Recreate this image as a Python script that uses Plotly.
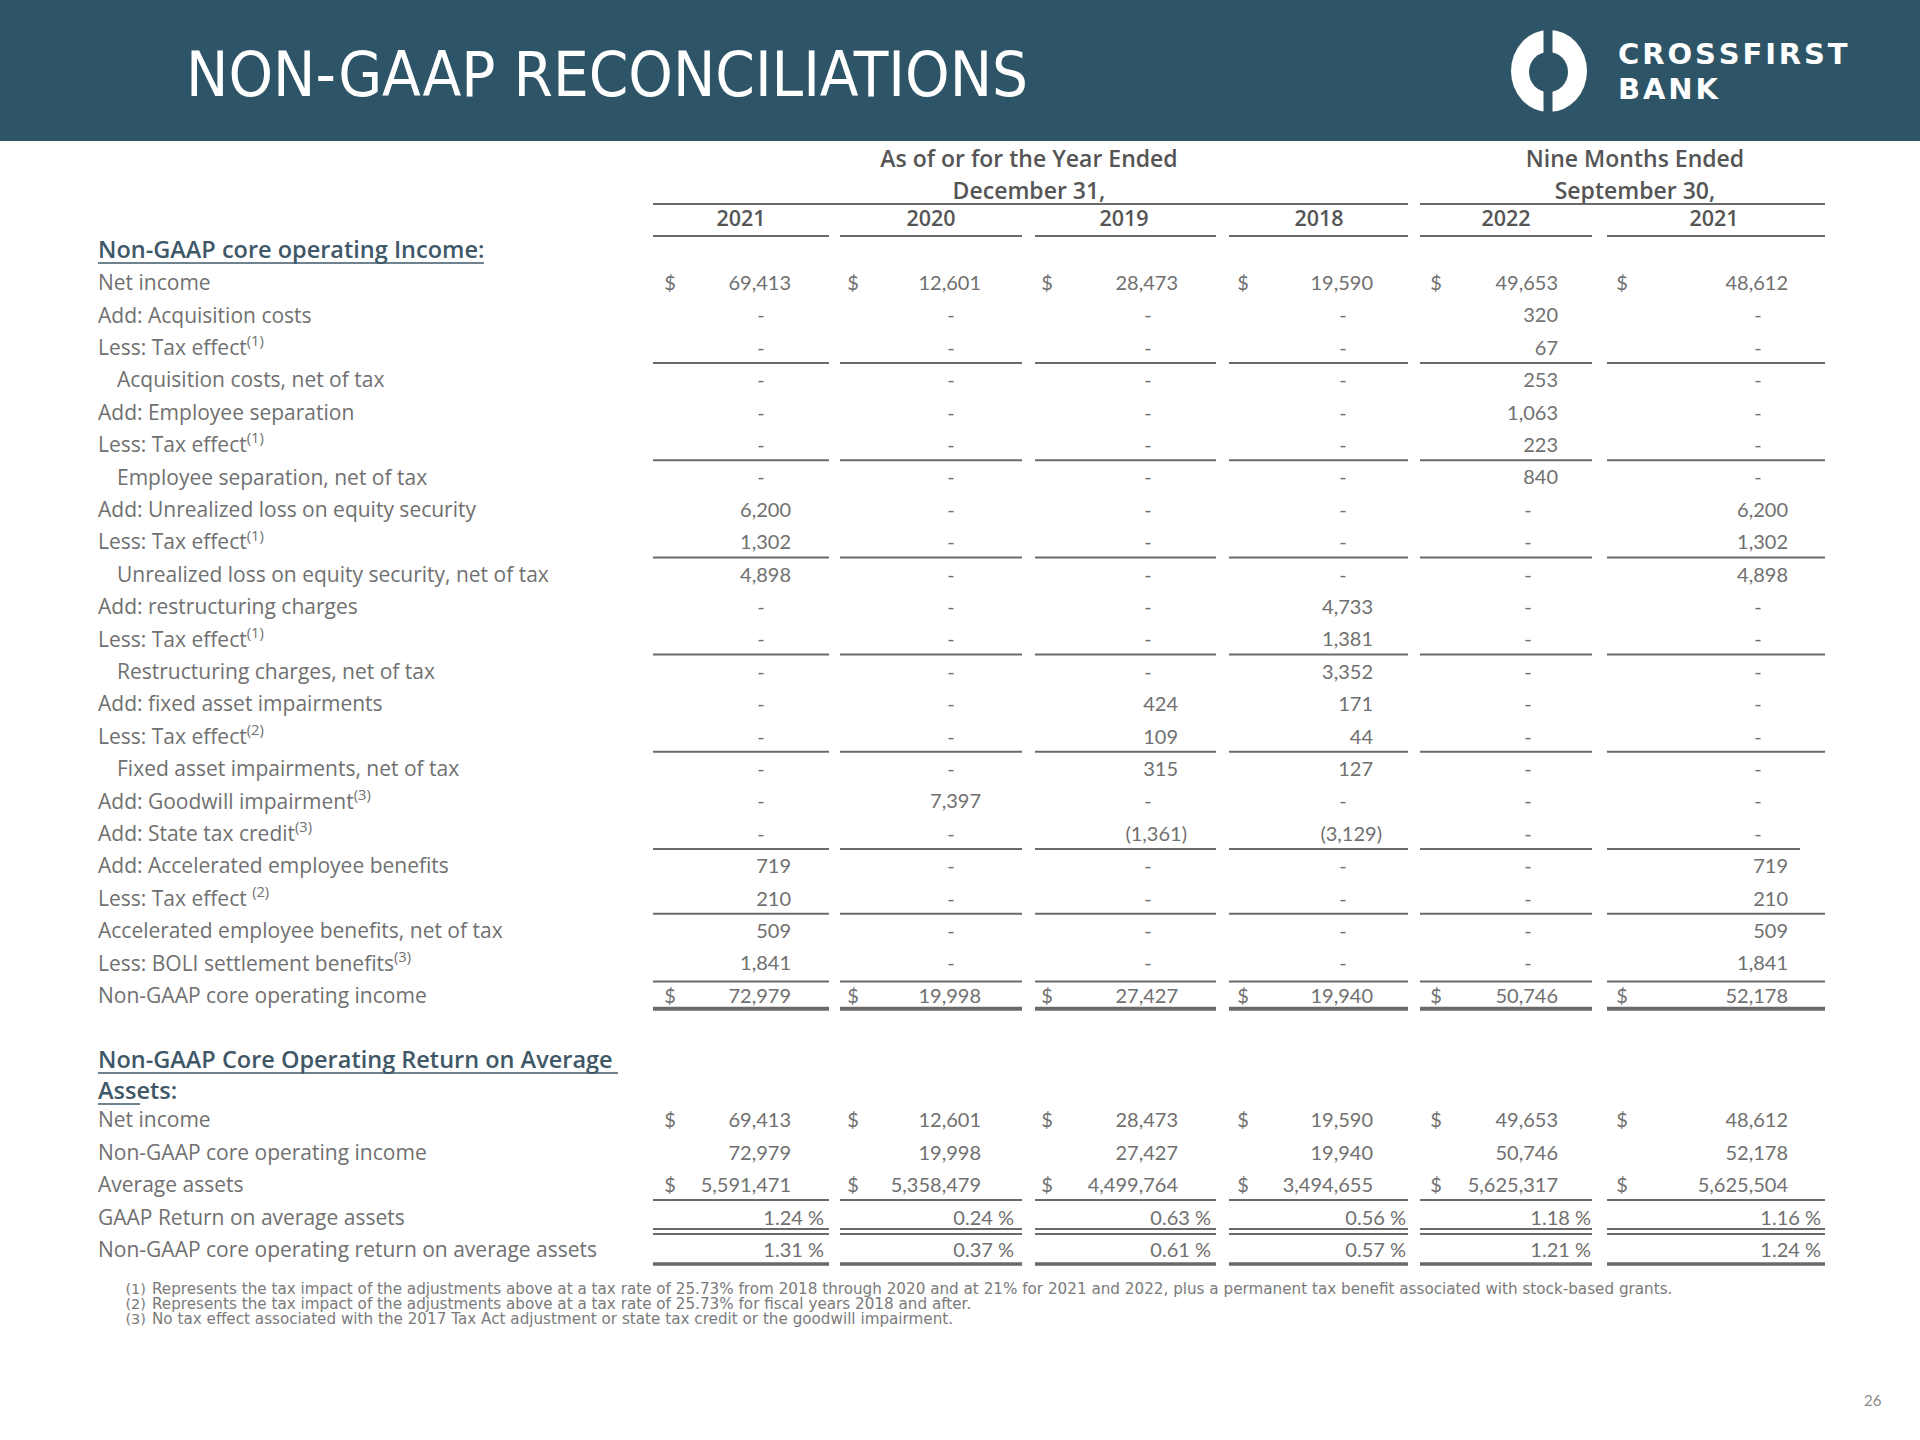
import plotly.graph_objects as go

# ---------------- data ----------------
years = ["2021", "2020", "2019", "2018", "2022", "2021"]
period_headers = ["As of or for the Year Ended", "December 31,", "Nine Months Ended", "September 30,"]

core_labels = [
    "Net income",
    "Add: Acquisition costs",
    "Less: Tax effect<sup>(1)</sup>",
    "Acquisition costs, net of tax",
    "Add: Employee separation",
    "Less: Tax effect<sup>(1)</sup>",
    "Employee separation, net of tax",
    "Add: Unrealized loss on equity security",
    "Less: Tax effect<sup>(1)</sup>",
    "Unrealized loss on equity security, net of tax",
    "Add: restructuring charges",
    "Less: Tax effect<sup>(1)</sup>",
    "Restructuring charges, net of tax",
    "Add: fixed asset impairments",
    "Less: Tax effect<sup>(2)</sup>",
    "Fixed asset impairments, net of tax",
    "Add: Goodwill impairment<sup>(3)</sup>",
    "Add: State tax credit<sup>(3)</sup>",
    "Add: Accelerated employee benefits",
    "Less: Tax effect <sup>(2)</sup>",
    "Accelerated employee benefits, net of tax",
    "Less: BOLI settlement benefits<sup>(3)</sup>",
    "Non-GAAP core operating income",
]
N = None
core_fy2021 = [69413, N, N, N, N, N, N, 6200, 1302, 4898, N, N, N, N, N, N, N, N, 719, 210, 509, 1841, 72979]
core_fy2020 = [12601, N, N, N, N, N, N, N, N, N, N, N, N, N, N, N, 7397, N, N, N, N, N, 19998]
core_fy2019 = [28473, N, N, N, N, N, N, N, N, N, N, N, N, 424, 109, 315, N, -1361, N, N, N, N, 27427]
core_fy2018 = [19590, N, N, N, N, N, N, N, N, N, 4733, 1381, 3352, 171, 44, 127, N, -3129, N, N, N, N, 19940]
core_9m2022 = [49653, 320, 67, 253, 1063, 223, 840, N, N, N, N, N, N, N, N, N, N, N, N, N, N, N, 50746]
core_9m2021 = [48612, N, N, N, N, N, N, 6200, 1302, 4898, N, N, N, N, N, N, N, N, 719, 210, 509, 1841, 52178]
core_columns = [core_fy2021, core_fy2020, core_fy2019, core_fy2018, core_9m2022, core_9m2021]

roaa_labels = [
    "Net income",
    "Non-GAAP core operating income",
    "Average assets",
    "GAAP Return on average assets",
    "Non-GAAP core operating return on average assets",
]
roaa_net_income = [69413, 12601, 28473, 19590, 49653, 48612]
roaa_core_income = [72979, 19998, 27427, 19940, 50746, 52178]
roaa_avg_assets = [5591471, 5358479, 4499764, 3494655, 5625317, 5625504]
roaa_gaap_pct = [1.24, 0.24, 0.63, 0.56, 1.18, 1.16]
roaa_core_pct = [1.31, 0.37, 0.61, 0.57, 1.21, 1.24]

footnotes = [
    ("(1)", "Represents the tax impact of the adjustments above at a tax rate of 25.73% from 2018 through 2020 and at 21% for 2021 and 2022, plus a permanent tax benefit associated with stock-based grants."),
    ("(2)", "Represents the tax impact of the adjustments above at a tax rate of 25.73% for fiscal years 2018 and after."),
    ("(3)", "No tax effect associated with the 2017 Tax Act adjustment or state tax credit or the goodwill impairment."),
]

# ---------------- style / layout constants ----------------
W, H = 1920, 1440
TEAL = "#2e5567"
TXT = "#707070"
HDR = "#555555"
SEC = "#3f5868"
LINE = "#6a6a6a"
NUMFONT = "Lato, 'Open Sans', sans-serif"
LABFONT = "'Open Sans', Lato, sans-serif"

col_left = [653, 840, 1035, 1229, 1420, 1607]
col_right = [829, 1022, 1216, 1408, 1592, 1825]
num_right = [791, 981, 1178, 1373, 1558, 1788]
dollar_x = [670, 853, 1047, 1243, 1436, 1622]
year_x = [741, 931, 1124, 1319, 1506, 1714]

LABEL_X = 98
INDENT_X = 117
indent_rows = {3, 6, 9, 12, 15}
ROW0, STEP = 282, 32.4
TY = 3  # small vertical nudge for text baselines
core_dollar_rows = {0, 22}
core_line_after = [2, 5, 8, 11, 14, 17, 19, 21]
roaa_y = [1119, 1151.5, 1184, 1216.5, 1249]


def row_y(i):
    return ROW0 + STEP * i


def fmt(v):
    if v is None:
        return None
    if v < 0:
        return "({:,})".format(-v)
    return "{:,}".format(v)


fig = go.Figure()
shapes = []
annotations = []


def hline(x0, x1, y, w=2, color=LINE):
    shapes.append(dict(type="line", xref="x", yref="y", x0=x0, x1=x1, y0=y, y1=y,
                       line=dict(color=color, width=w)))


def text_trace(xs, ys, texts, pos, size=20, color=TXT, weight=None, family=NUMFONT):
    tf = dict(family=family, size=size, color=color)
    if weight:
        tf["weight"] = weight
    fig.add_trace(go.Scatter(x=xs, y=[y + TY for y in ys], text=texts, mode="text", textposition=pos,
                             textfont=tf, hoverinfo="skip", showlegend=False, cliponaxis=False))


# ---------------- header band ----------------
shapes.append(dict(type="rect", xref="x", yref="y", x0=0, x1=W, y0=0, y1=141,
                   fillcolor=TEAL, line=dict(width=0), layer="below"))
annotations.append(dict(x=184, y=74, xref="x", yref="y", xanchor="left", yanchor="middle",
                        text="NON-GAAP RECONCILIATIONS", showarrow=False,
                        font=dict(family="'Liberation Sans Narrow', 'DejaVu Sans Condensed', sans-serif",
                                  size=63, color="white")))
# logo: white ring split by a vertical gap
shapes.append(dict(type="circle", xref="x", yref="y", x0=1511, x1=1587, y0=30, y1=112,
                   fillcolor="white", line=dict(width=0)))
shapes.append(dict(type="circle", xref="x", yref="y", x0=1529, x1=1568, y0=52, y1=92,
                   fillcolor=TEAL, line=dict(width=0)))
shapes.append(dict(type="rect", xref="x", yref="y", x0=1543.5, x1=1552.5, y0=26, y1=116,
                   fillcolor=TEAL, line=dict(width=0)))
hs = "\u200a"
for txt, yy in [("CROSSFIRST", 54), ("BANK", 89)]:
    annotations.append(dict(x=1616, y=yy, xref="x", yref="y", xanchor="left", yanchor="middle",
                            text="<b>" + hs.join(txt) + "</b>", showarrow=False,
                            font=dict(family="'DejaVu Sans', sans-serif", size=29, color="white")))

# ---------------- column headers ----------------
text_trace([1029, 1029, 1635, 1635], [158, 190, 158, 190], period_headers, "middle center",
           size=23, color=HDR, weight=600, family=LABFONT)
text_trace(year_x, [218] * 6, years, "middle center", size=21.5, color=HDR, weight=600, family=LABFONT)
hline(col_left[0], col_right[3], 204)
hline(col_left[4], col_right[5], 204)
for c in range(6):
    hline(col_left[c], col_right[c], 236)

# ---------------- section 1 ----------------
text_trace([LABEL_X], [249], ["Non-GAAP core operating Income:"], "middle right",
           size=23.5, color=SEC, weight=600, family=LABFONT)
hline(98, 484, 263, w=1.6, color=SEC)

lx, ly, lt = [], [], []
for i, lab in enumerate(core_labels):
    lx.append(INDENT_X if i in indent_rows else LABEL_X)
    ly.append(row_y(i))
    lt.append(lab)
text_trace(lx, ly, lt, "middle right", size=21, family=LABFONT)

nx, ny, nt, dx, dy, sx, sy = [], [], [], [], [], [], []
for c, col in enumerate(core_columns):
    for i, v in enumerate(col):
        s = fmt(v)
        if s is None:
            dx.append(num_right[c] - 30)
            dy.append(row_y(i))
        else:
            nx.append(num_right[c] + (9 if v < 0 else 0))
            ny.append(row_y(i))
            nt.append(s)
        if i in core_dollar_rows:
            sx.append(dollar_x[c])
            sy.append(row_y(i))
text_trace(nx, ny, nt, "middle left")
text_trace(dx, dy, ["-"] * len(dx), "middle center")
text_trace(sx, sy, ["$"] * len(sx), "middle center")

for c in range(6):
    for i in core_line_after:
        y = row_y(i) + STEP / 2 if i != 21 else row_y(21) + 19
        x1 = col_right[c]
        if c == 5 and i == 17:
            x1 = 1800
        hline(col_left[c], x1, y)
    hline(col_left[c], col_right[c], row_y(22) + 14, w=4)

# ---------------- section 2 ----------------
text_trace([LABEL_X, LABEL_X], [1059, 1090],
           ["Non-GAAP Core Operating Return on Average", "Assets:"], "middle right",
           size=23.5, color=SEC, weight=600, family=LABFONT)
hline(98, 618, 1073, w=1.6, color=SEC)
hline(98, 140, 1104, w=1.6, color=SEC)
text_trace([LABEL_X] * 5, roaa_y, roaa_labels, "middle right", size=21, family=LABFONT)

nx, ny, nt, sx, sy = [], [], [], [], []
for c in range(6):
    for r, series in enumerate([roaa_net_income, roaa_core_income, roaa_avg_assets]):
        nx.append(num_right[c])
        ny.append(roaa_y[r])
        nt.append(fmt(series[c]))
    for r, series in [(3, roaa_gaap_pct), (4, roaa_core_pct)]:
        nx.append(num_right[c] + 33)
        ny.append(roaa_y[r])
        nt.append("{:.2f} %".format(series[c]))
    sx += [dollar_x[c], dollar_x[c]]
    sy += [roaa_y[0], roaa_y[2]]
text_trace(nx, ny, nt, "middle left")
text_trace(sx, sy, ["$"] * len(sx), "middle center")

for c in range(6):
    hline(col_left[c], col_right[c], 1200)
    hline(col_left[c], col_right[c], 1229)
    hline(col_left[c], col_right[c], 1234)
    hline(col_left[c], col_right[c], 1264, w=3.5)

# ---------------- footnotes ----------------
fy = [1287, 1302, 1317]
text_trace([146] * 3, fy, [f[0] for f in footnotes], "middle left", size=14.5,
           family="'DejaVu Sans', sans-serif", color="#7a7a7a")
text_trace([152] * 3, fy, [f[1] for f in footnotes], "middle right", size=15.2,
           family="'DejaVu Sans', sans-serif", color="#7a7a7a")

annotations.append(dict(x=1873, y=1400, xref="x", yref="y", text="26", showarrow=False,
                        font=dict(family=NUMFONT, size=15, color="#8a8a8a")))

fig.update_layout(
    width=W, height=H,
    margin=dict(l=0, r=0, t=0, b=0),
    paper_bgcolor="white", plot_bgcolor="white",
    xaxis=dict(range=[0, W], visible=False, fixedrange=True),
    yaxis=dict(range=[H, 0], visible=False, fixedrange=True),
    shapes=shapes, annotations=annotations,
)
fig.write_html("out.html", config={"displayModeBar": False},
               post_script="document.body.style.margin='0';document.body.style.overflow='hidden';")
